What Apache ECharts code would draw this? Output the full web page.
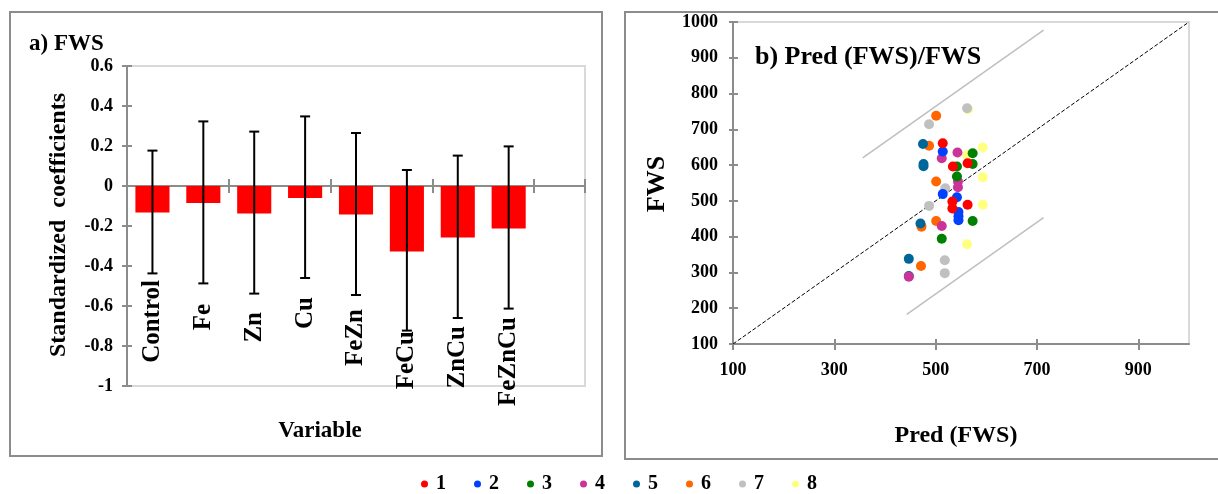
<!DOCTYPE html>
<html><head><meta charset="utf-8">
<script src="https://cdn.jsdelivr.net/npm/echarts@6/dist/echarts.min.js"></script>
<style>html,body{margin:0;padding:0;background:#fff}#c{width:1218px;height:494px}</style>
</head><body><div id="c"></div>
<script>
// ---------- data ----------
const categories = ['Control', 'Fe', 'Zn', 'Cu', 'FeZn', 'FeCu', 'ZnCu', 'FeZnCu', ''];
const coefValues = [-0.132, -0.085, -0.137, -0.060, -0.142, -0.327, -0.258, -0.213];
const errUpper   = [0.177, 0.323, 0.272, 0.348, 0.265, 0.080, 0.152, 0.198];
const errLower   = [-0.437, -0.487, -0.538, -0.460, -0.545, -0.723, -0.660, -0.613];

const groupNames = ['1', '2', '3', '4', '5', '6', '7', '8'];
const group1 = [[514, 661], [534, 596], [563, 605], [533, 498], [533, 479], [563, 489]];
const group2 = [[514, 638], [514, 519], [542, 510], [545, 469], [545, 457], [545, 446]];
const group3 = [[573, 633], [542, 596], [573, 603], [542, 568], [573, 444], [512, 394]];
const group4 = [[512, 619], [543, 635], [544, 554], [544, 538], [512, 430], [447, 288]];
const group5 = [[475, 659], [476, 603], [476, 597], [470, 437], [447, 338], [447, 290]];
const group6 = [[501, 738], [487, 654], [501, 554], [501, 444], [472, 428], [471, 318]];
const group7 = [[562, 759], [487, 714], [519, 535], [487, 486], [518, 334], [518, 298]];
const group8 = [[564, 756], [593, 649], [562, 628], [593, 566], [593, 489], [562, 379]];

const identityLine = [[100, 100], [1000, 1000]];
const upperBound = [[356, 620], [713, 977]];
const lowerBound = [[443, 183], [713, 453]];
const predTicks = [100, 300, 500, 700, 900];

// ---------- styles / layout ----------
const groups = [group1, group2, group3, group4, group5, group6, group7, group8];
const groupColors = ['#FF0000', '#0040FF', '#008000', '#CC3399', '#006699', '#FF6600', '#C0C0C0', '#FFFF80'];
const FONT = 'Liberation Serif';
const AX = '#8C8C8C';
const labelDrop = [94, 118, 126, 111, 123, 145, 140, 131];

const gridA = {left: 127, top: 66, width: 458, height: 320};
const gridB = {left: 733, top: 22, width: 456, height: 322};
const tickLbl = {fontFamily: FONT, fontWeight: 'bold', fontSize: 18, color: '#000'};

const series = [
  {type: 'bar', xAxisIndex: 0, yAxisIndex: 0, data: coefValues, barCategoryGap: '33%',
   itemStyle: {color: '#FF0000'}, silent: true, z: 2},
  {type: 'custom', xAxisIndex: 0, yAxisIndex: 0, z: 3,
   data: coefValues.map((v, i) => [i, errLower[i], errUpper[i]]),
   encode: {x: 0, y: [1, 2]},
   renderItem: function (params, api) {
     const x = api.value(0);
     const lo = api.coord([x, api.value(1)]);
     const hi = api.coord([x, api.value(2)]);
     const h = 5;
     const st = {stroke: '#000', lineWidth: 2};
     return {type: 'group', children: [
       {type: 'line', shape: {x1: hi[0], y1: hi[1], x2: lo[0], y2: lo[1]}, style: st},
       {type: 'line', shape: {x1: hi[0] - h, y1: hi[1], x2: hi[0] + h, y2: hi[1]}, style: st},
       {type: 'line', shape: {x1: lo[0] - h, y1: lo[1], x2: lo[0] + h, y2: lo[1]}, style: st}
     ]};
   }},
  // category labels, placed through the category scale, rotated as in the reference
  {type: 'custom', xAxisIndex: 0, yAxisIndex: 0, z: 4, silent: true,
   data: coefValues.map((v, i) => [i, 0]),
   encode: {x: 0, y: 1},
   renderItem: function (params, api) {
     const i = api.value(0);
     const p = api.coord([i, 0]);
     return {type: 'text', x: p[0], y: p[1] + labelDrop[i], rotation: Math.PI / 2,
       style: {text: categories[i], font: 'bold 25px "Liberation Serif"', fill: '#000',
         align: 'right', verticalAlign: 'middle'}};
   }},
  {type: 'line', xAxisIndex: 2, yAxisIndex: 2, data: identityLine, symbol: 'none', silent: true,
   lineStyle: {color: '#000', width: 1, type: [4, 2]}, z: 1},
  {type: 'line', xAxisIndex: 2, yAxisIndex: 2, data: upperBound, symbol: 'none', silent: true,
   lineStyle: {color: '#BFBFBF', width: 1.5}, z: 1},
  {type: 'line', xAxisIndex: 2, yAxisIndex: 2, data: lowerBound, symbol: 'none', silent: true,
   lineStyle: {color: '#BFBFBF', width: 1.5}, z: 1}
];
for (let k = groups.length - 1; k >= 0; k--) {
  series.push({type: 'scatter', name: groupNames[k], xAxisIndex: 2, yAxisIndex: 2,
    data: groups[k], symbol: 'circle', symbolSize: 10, itemStyle: {color: groupColors[k], opacity: 1}, z: 3});
}

const option = {
  animation: false,
  backgroundColor: '#fff',
  grid: [
    Object.assign({show: true, borderColor: '#D9D9D9', borderWidth: 2, outerBoundsMode: 'none'}, gridA),
    Object.assign({show: false, outerBoundsMode: 'none'}, gridA),
    Object.assign({show: true, borderColor: '#D9D9D9', borderWidth: 2, outerBoundsMode: 'none'}, gridB),
    Object.assign({show: false, outerBoundsMode: 'none'}, gridB)
  ],
  xAxis: [
    {type: 'category', gridIndex: 0, data: categories,
     axisLine: {onZero: true, lineStyle: {color: AX, width: 2}},
     axisTick: {show: true, length: 7, lineStyle: {color: AX, width: 2}},
     axisLabel: {show: false}},
    {type: 'category', gridIndex: 1, data: categories,
     axisLine: {show: false, onZero: true},
     axisTick: {show: true, inside: true, length: 7, lineStyle: {color: AX, width: 2}},
     axisLabel: {show: false}},
    {type: 'value', gridIndex: 2, min: 100, max: 1000,
     axisLine: {onZero: false, lineStyle: {color: AX, width: 2}},
     axisTick: {show: true, length: 6, customValues: predTicks, lineStyle: {color: AX, width: 2}},
     axisLabel: Object.assign({margin: 17, customValues: predTicks, formatter: v => String(v)}, tickLbl),
     splitLine: {show: false}},
    {type: 'value', gridIndex: 3, min: 100, max: 1000,
     axisLine: {show: false, onZero: false},
     axisTick: {show: true, inside: true, length: 5, customValues: predTicks, lineStyle: {color: AX, width: 2}},
     axisLabel: {show: false}, splitLine: {show: false}}
  ],
  yAxis: [
    {type: 'value', gridIndex: 0, min: -1, max: 0.6, interval: 0.2,
     axisLine: {show: true, onZero: false, lineStyle: {color: AX, width: 2}},
     axisTick: {show: true, length: 5, lineStyle: {color: AX, width: 2}},
     axisLabel: Object.assign({margin: 14}, tickLbl), splitLine: {show: false}},
    {type: 'value', gridIndex: 1, min: -1, max: 0.6, interval: 0.2,
     axisLine: {show: false, onZero: false},
     axisTick: {show: true, inside: true, length: 5, lineStyle: {color: AX, width: 2}},
     axisLabel: {show: false}, splitLine: {show: false}},
    {type: 'value', gridIndex: 2, min: 100, max: 1000, interval: 100,
     axisLine: {show: true, onZero: false, lineStyle: {color: AX, width: 2}},
     axisTick: {show: true, length: 4, lineStyle: {color: AX, width: 2}},
     axisLabel: Object.assign({margin: 15, formatter: v => String(v)}, tickLbl), splitLine: {show: false}},
    {type: 'value', gridIndex: 3, min: 100, max: 1000, interval: 100,
     axisLine: {show: false, onZero: false},
     axisTick: {show: true, inside: true, length: 5, lineStyle: {color: AX, width: 2}},
     axisLabel: {show: false}, splitLine: {show: false}}
  ],
  legend: {data: groupNames, left: 416, top: 469, icon: 'circle', itemWidth: 13, itemHeight: 7,
    itemGap: 28, textStyle: {fontFamily: FONT, fontWeight: 'bold', fontSize: 20, color: '#000'}},
  title: [
    {text: 'a) FWS', left: 24, top: 28, textStyle: {fontFamily: FONT, fontWeight: 'bold', fontSize: 23, color: '#000'}},
    {text: 'b) Pred (FWS)/FWS', left: 750, top: 39, textStyle: {fontFamily: FONT, fontWeight: 'bold', fontSize: 26, color: '#000'}}
  ],
  graphic: [
    {type: 'rect', shape: {x: 10, y: 12, width: 592, height: 444}, style: {fill: 'none', stroke: '#8C8C8C', lineWidth: 2}, silent: true},
    {type: 'rect', shape: {x: 625, y: 12, width: 600, height: 447}, style: {fill: 'none', stroke: '#8C8C8C', lineWidth: 2}, silent: true},
    {type: 'text', x: 59, y: 225, rotation: Math.PI / 2,
     style: {text: 'Standardized  coefficients', font: 'bold 24px "Liberation Serif"', fill: '#000', align: 'center', verticalAlign: 'middle'}},
    {type: 'text', x: 320, y: 431,
     style: {text: 'Variable', font: 'bold 23px "Liberation Serif"', fill: '#000', align: 'center', verticalAlign: 'middle'}},
    {type: 'text', x: 657, y: 184, rotation: Math.PI / 2,
     style: {text: 'FWS', font: 'bold 26px "Liberation Serif"', fill: '#000', align: 'center', verticalAlign: 'middle'}},
    {type: 'text', x: 956, y: 436,
     style: {text: 'Pred (FWS)', font: 'bold 24px "Liberation Serif"', fill: '#000', align: 'center', verticalAlign: 'middle'}}
  ],
  series: series
};
const chart = echarts.init(document.getElementById('c'), null, {renderer: 'canvas'});
chart.setOption(option);
</script></body></html>
